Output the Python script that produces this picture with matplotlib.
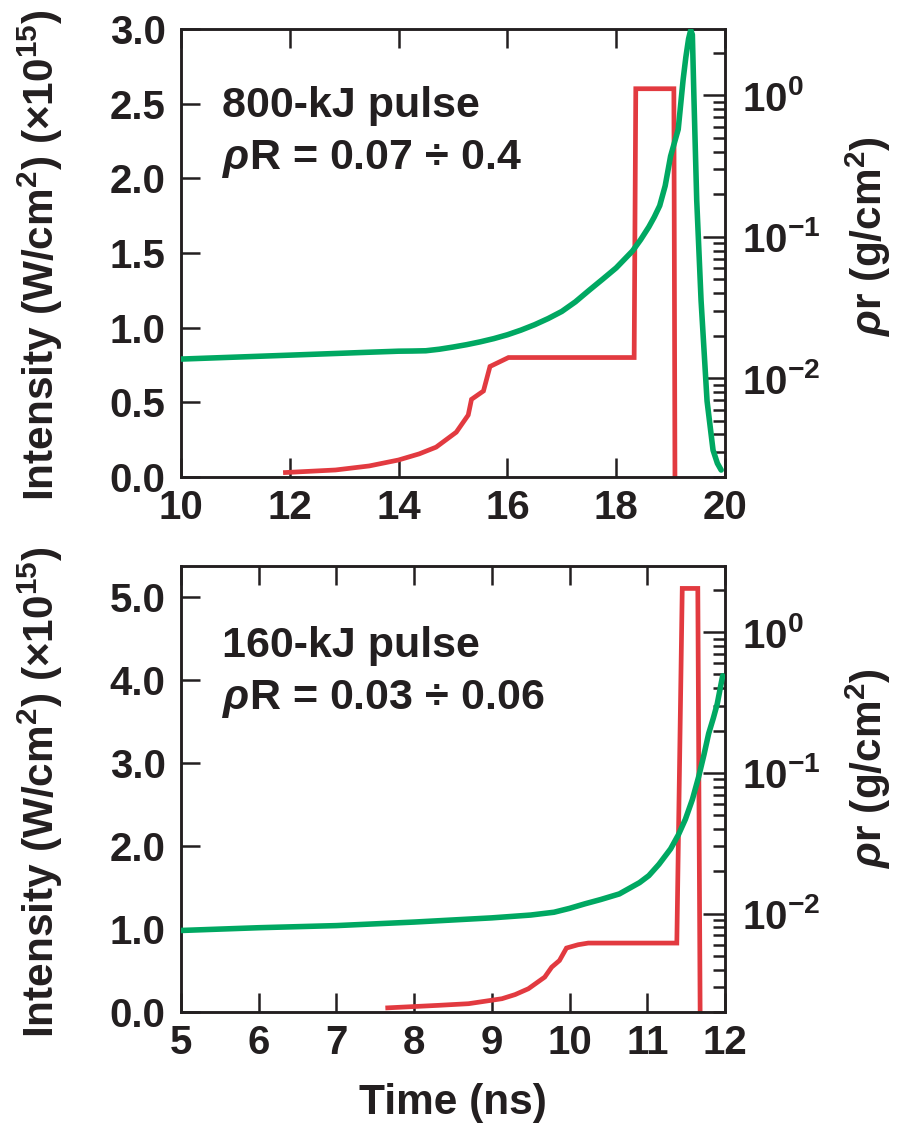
import matplotlib
matplotlib.use('Agg')
import matplotlib.pyplot as plt
from matplotlib.ticker import FixedLocator, FixedFormatter, LogLocator, NullFormatter
import numpy as np

plt.rcParams['font.family'] = ['Liberation Sans', 'DejaVu Sans']
plt.rcParams['font.weight'] = 'bold'
plt.rcParams['mathtext.fontset'] = 'custom'
plt.rcParams['mathtext.rm'] = 'Liberation Sans:bold'
plt.rcParams['mathtext.it'] = 'Liberation Sans:italic:bold'
plt.rcParams['mathtext.bf'] = 'Liberation Sans:bold'
plt.rcParams['mathtext.sf'] = 'Liberation Sans:bold'

TEXT = '#231f20'
GREEN = '#00a862'
RED = '#e23a40'

# ---------------- data ----------------
# 800-kJ pulse (top panel)
t_pulse_800 = [11.92, 12.84, 13.46, 14.0, 14.38, 14.69, 15.06, 15.28, 15.34, 15.56, 15.68, 16.02,
               18.33, 18.36, 19.06, 19.08]
I_pulse_800 = [0.03, 0.047, 0.074, 0.114, 0.155, 0.20, 0.30, 0.415, 0.52, 0.576, 0.74, 0.80,
               0.80, 2.60, 2.60, 0.0]

t_rho_800 = [10.0, 11.0, 12.0, 13.0, 13.5, 14.0, 14.25, 14.5, 14.75, 15.0, 15.25, 15.5, 15.75,
             16.0, 16.25, 16.5, 16.75, 17.0, 17.25, 17.5, 17.75, 18.0, 18.15, 18.3, 18.45,
             18.6, 18.7, 18.8, 18.9, 19.0, 19.14, 19.23, 19.28, 19.33, 19.37, 19.40, 19.43,
             19.48, 19.56, 19.67, 19.78, 19.86, 19.93]
rho_800 = [0.01365, 0.01409, 0.01455, 0.01503, 0.01528, 0.01552, 0.01556, 0.01563, 0.01603,
           0.01660, 0.01726, 0.01807, 0.01905, 0.02028, 0.02188, 0.02388, 0.02642, 0.02965,
           0.03467, 0.04178, 0.0501, 0.0603, 0.0692, 0.0794, 0.0955, 0.1175, 0.138, 0.166,
           0.229, 0.372, 0.575, 1.29, 1.86, 2.51, 2.90, 2.69, 0.93, 0.182, 0.0355, 0.0069,
           0.0031, 0.0025, 0.00224]

# 160-kJ pulse (bottom panel)
t_pulse_160 = [7.66, 8.31, 8.70, 9.13, 9.30, 9.47, 9.68, 9.77, 9.87, 9.96, 10.11, 10.24, 11.38,
               11.45, 11.65, 11.68]
I_pulse_160 = [0.05, 0.08, 0.10, 0.16, 0.21, 0.28, 0.42, 0.54, 0.62, 0.77, 0.81, 0.83, 0.83,
               5.10, 5.10, 0.0]

t_rho_160 = [5.0, 6.0, 7.0, 8.0, 9.0, 9.5, 9.8, 10.0, 10.2, 10.4, 10.64, 10.9, 11.02, 11.15,
             11.30, 11.4, 11.49, 11.58, 11.66, 11.73, 11.79, 11.85, 11.90, 11.97]
rho_160 = [0.00759, 0.00794, 0.00822, 0.00871, 0.00933, 0.00977, 0.01023, 0.0109, 0.01175,
           0.01259, 0.01380, 0.0166, 0.01862, 0.0224, 0.02884, 0.0363, 0.04677, 0.0646,
           0.0933, 0.135, 0.1905, 0.245, 0.309, 0.490]

xticks_800 = [10, 12, 14, 16, 18, 20]
xticks_160 = [5, 6, 7, 8, 9, 10, 11, 12]
yticks_800 = [0.0, 0.5, 1.0, 1.5, 2.0, 2.5, 3.0]
yticks_160 = [0.0, 1.0, 2.0, 3.0, 4.0, 5.0]
rho_ticks = [0.01, 0.1, 1.0]
rho_ticklabels = [r'$10^{-2}$', r'$10^{-1}$', r'$10^{0}$']

label_800 = ['800-kJ pulse', r'$\rho$R = 0.07 ÷ 0.4']
label_160 = ['160-kJ pulse', r'$\rho$R = 0.03 ÷ 0.06']

# ---------------- figure ----------------
W, H = 903, 1125
fig = plt.figure(figsize=(W / 100, H / 100), dpi=100)
FS = 29      # tick labels
FS_LAB = 30.5  # axis labels
FS_ANN = 31  # in-panel annotations


def px_axes(x0, y0, x1, y1):
    return fig.add_axes([x0 / W, 1 - y1 / H, (x1 - x0) / W, (y1 - y0) / H])


def panel(box, t_p, I_p, t_r, r, xlim, xticks, ylim, yticks, lines, text_px):
    ax = px_axes(*box)
    ax.plot(t_p, I_p, color=RED, lw=3.4, solid_joinstyle='miter', zorder=2)
    ax.set_xlim(*xlim)
    ax.set_ylim(*ylim)
    ax.set_xticks(xticks)
    ax.set_xticklabels([str(v) for v in xticks])
    ax.set_yticks(yticks)
    ax.set_yticklabels([f'{v:.1f}' for v in yticks])
    ax.tick_params(axis='both', which='major', direction='in', length=14, width=1.8,
                   labelsize=FS, colors=TEXT, top=True, right=False)
    ax.tick_params(axis='x', pad=9)
    ax.tick_params(axis='y', pad=11)
    for s in ax.spines.values():
        s.set_linewidth(1.8)
        s.set_color(TEXT)

    ax2 = ax.twinx()
    ax2.set_yscale('log')
    ax2.set_ylim(0.002, 2.95)
    ax2.plot(t_r, r, color=GREEN, lw=4.0, zorder=3, solid_joinstyle='round',
             solid_capstyle='round')
    ax2.yaxis.set_major_locator(FixedLocator(rho_ticks))
    ax2.yaxis.set_major_formatter(FixedFormatter(rho_ticklabels))
    ax2.yaxis.set_minor_locator(LogLocator(base=10, subs=np.arange(2, 10)))
    ax2.yaxis.set_minor_formatter(NullFormatter())
    ax2.tick_params(axis='y', which='major', direction='in', length=16, width=1.8,
                    labelsize=FS, colors=TEXT, pad=12)
    ax2.tick_params(axis='y', which='minor', direction='in', length=9, width=1.8, colors=TEXT)
    for s in ax2.spines.values():
        s.set_linewidth(1.8)
        s.set_color(TEXT)

    x0, y0 = text_px
    for i, ln in enumerate(lines):
        fig.text(x0 / W, 1 - (y0 + 52 * i) / H, ln, fontsize=FS_ANN, color=TEXT,
                 ha='left', va='baseline', fontweight='bold')
    return ax, ax2


panel((181, 29, 725, 477), t_pulse_800, I_pulse_800, t_rho_800, rho_800,
      (10, 20), xticks_800, (0, 3.0), yticks_800, label_800, (222, 117))
panel((181, 566, 725, 1012), t_pulse_160, I_pulse_160, t_rho_160, rho_160,
      (5, 12), xticks_160, (0, 5.37), yticks_160, label_160, (222, 657))

left_label = r'Intensity (W/cm$^{2}$) (×10$^{15}$)'
right_label = r'$\rho$r (g/cm$^{2}$)'
fig.text(40 / W, 1 - 255 / H, left_label, rotation=90, ha='center', va='center',
         fontsize=FS_LAB, color=TEXT)
fig.text(40 / W, 1 - 792 / H, left_label, rotation=90, ha='center', va='center',
         fontsize=FS_LAB, color=TEXT)
fig.text(868 / W, 1 - 236 / H, right_label, rotation=90, ha='center', va='center',
         fontsize=FS_LAB, color=TEXT)
fig.text(868 / W, 1 - 768 / H, right_label, rotation=90, ha='center', va='center',
         fontsize=FS_LAB, color=TEXT)
fig.text(453 / W, 1 - 1103 / H, 'Time (ns)', ha='center', va='center',
         fontsize=FS_LAB, color=TEXT)

fig.savefig('out.png', dpi=100)
